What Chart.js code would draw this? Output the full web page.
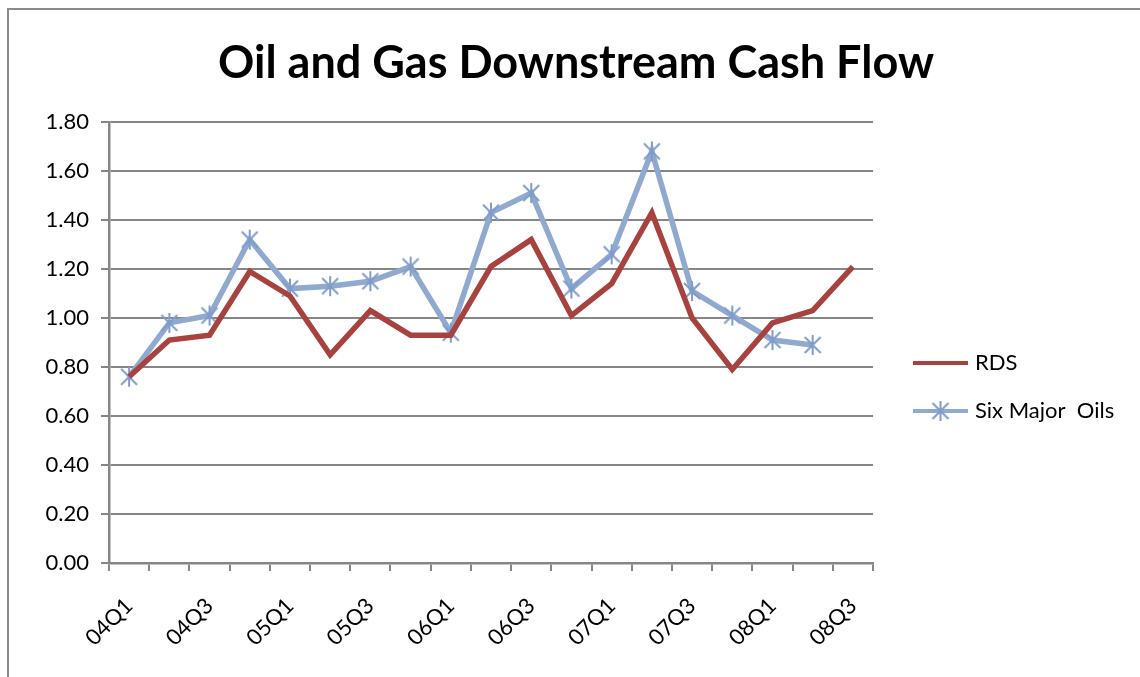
<!DOCTYPE html>
<html>
<head>
<meta charset="utf-8">
<script src="https://cdn.jsdelivr.net/npm/chart.js@4/dist/chart.umd.min.js"></script>
<style>
  html, body { margin: 0; padding: 0; background: #ffffff; }
  #wrap { width: 1140px; height: 677px; position: relative; }
</style>
</head>
<body>
<div id="wrap"><canvas id="c" width="1140" height="677"></canvas></div>
<script>
const categories = ["04Q1","04Q2","04Q3","04Q4","05Q1","05Q2","05Q3","05Q4","06Q1","06Q2","06Q3","06Q4","07Q1","07Q2","07Q3","07Q4","08Q1","08Q2","08Q3"];
const rdsValues = [0.76,0.91,0.93,1.19,1.09,0.85,1.03,0.93,0.93,1.21,1.32,1.01,1.14,1.43,1.00,0.79,0.98,1.03,1.21];
const sixMajorValues = [0.76,0.98,1.01,1.32,1.12,1.13,1.15,1.21,0.94,1.43,1.51,1.12,1.26,1.68,1.11,1.01,0.91,0.89,null];
const yTicks = [0,0.2,0.4,0.6,0.8,1.0,1.2,1.4,1.6,1.8];
const chartTitle = "Oil and Gas Downstream Cash Flow";
const seriesNames = ["RDS", "Six Major  Oils"];

const RED = "#A8423F";
const BLUE = "#8FA9CF";
const MARK = "#7F9CCB";
const GRID = "#868686";
const FONT = "Lato, 'Open Sans', 'DejaVu Sans', sans-serif";

function makeStar(r, color) {
  const s = Math.ceil(r * 2 + 4);
  const cv = document.createElement('canvas');
  cv.width = s; cv.height = s;
  const g = cv.getContext('2d');
  const c = s / 2;
  g.strokeStyle = color;
  g.lineWidth = 2;
  g.lineCap = 'butt';
  g.beginPath();
  const d = r * 0.8;
  g.moveTo(c - d, c - d); g.lineTo(c + d, c + d);
  g.moveTo(c - d, c + d); g.lineTo(c + d, c - d);
  g.moveTo(c, c - r); g.lineTo(c, c + r);
  g.stroke();
  return cv;
}
const starImg = makeStar(10, MARK);

const framePlugin = {
  id: 'frame',
  beforeDraw(chart) {
    const ctx = chart.ctx;
    ctx.save();
    ctx.fillStyle = '#ffffff';
    ctx.fillRect(0, 0, chart.width, chart.height);
    ctx.strokeStyle = '#8a8a8a';
    ctx.lineWidth = 2;
    ctx.beginPath();
    ctx.moveTo(8, chart.height + 2);
    ctx.lineTo(8, 9);
    ctx.lineTo(chart.width + 2, 9);
    ctx.stroke();
    ctx.restore();
  }
};

const legendPlugin = {
  id: 'customLegend',
  afterDraw(chart) {
    const ctx = chart.ctx;
    ctx.save();
    const x0 = 913, x1 = 968, tx = 975;
    const ys = [363, 411];
    chart.data.datasets.forEach((ds, i) => {
      const y = ys[i];
      ctx.strokeStyle = ds.borderColor;
      ctx.lineWidth = 4;
      ctx.lineCap = 'butt';
      ctx.beginPath();
      ctx.moveTo(x0, y);
      ctx.lineTo(x1, y);
      ctx.stroke();
      if (ds.pointStyle && ds.pointRadius > 0) {
        ctx.drawImage(ds.pointStyle, (x0 + x1) / 2 - ds.pointStyle.width / 2, y - ds.pointStyle.height / 2);
      }
      ctx.fillStyle = '#000000';
      ctx.font = "22px " + FONT;
      ctx.textBaseline = 'middle';
      ctx.textAlign = 'left';
      ctx.fillText(ds.label, tx, y);
    });
    ctx.restore();
  }
};

new Chart(document.getElementById('c'), {
  type: 'line',
  data: {
    labels: categories,
    datasets: [
      {
        label: seriesNames[0],
        data: rdsValues,
        borderColor: RED,
        backgroundColor: RED,
        borderWidth: 5.5,
        pointRadius: 0,
        pointHoverRadius: 0,
        tension: 0,
        fill: false
      },
      {
        label: seriesNames[1],
        data: sixMajorValues,
        borderColor: BLUE,
        backgroundColor: BLUE,
        borderWidth: 5.5,
        pointStyle: starImg,
        pointRadius: 10,
        pointHoverRadius: 10,
        tension: 0,
        fill: false,
        spanGaps: false
      }
    ]
  },
  options: {
    responsive: false,
    animation: false,
    devicePixelRatio: 1,
    layout: { padding: { left: 12, right: 0, top: 0, bottom: 0 } },
    plugins: {
      legend: { display: false },
      tooltip: { enabled: false },
      title: {
        display: true,
        text: chartTitle,
        color: '#000000',
        font: { family: FONT, size: 45, weight: 'bold', lineHeight: 1.2 },
        padding: { top: 36, bottom: 32 }
      }
    },
    scales: {
      x: {
        type: 'category',
        offset: true,
        afterFit(scale) { scale.height = 114; },
        grid: {
          offset: true,
          drawOnChartArea: false,
          drawTicks: true,
          tickLength: 8,
          color: GRID,
          lineWidth: 2
        },
        border: { display: true, color: GRID, width: 2.5 },
        ticks: {
          autoSkip: false,
          maxRotation: 45,
          minRotation: 45,
          color: '#000000',
          padding: 22,
          font: { family: FONT, size: 22 },
          callback(value, index) { return index % 2 === 0 ? categories[index] : ''; }
        }
      },
      y: {
        min: 0,
        max: 1.8,
        afterFit(scale) { scale.width = 97; },
        afterBuildTicks(scale) { scale.ticks = yTicks.map(v => ({ value: v })); },
        grid: {
          color: GRID,
          lineWidth: 2,
          drawTicks: true,
          tickLength: 8
        },
        border: { display: true, color: GRID, width: 2.5 },
        ticks: {
          color: '#000000',
          padding: 12,
          font: { family: FONT, size: 22 },
          callback(value) { return Number(value).toFixed(2); }
        }
      },
      legendSpace: {
        type: 'linear',
        position: 'right',
        display: true,
        afterFit(scale) { scale.width = 267; },
        grid: { display: false, drawOnChartArea: false },
        border: { display: false },
        ticks: { display: false }
      }
    }
  },
  plugins: [framePlugin, legendPlugin]
});
</script>
</body>
</html>
